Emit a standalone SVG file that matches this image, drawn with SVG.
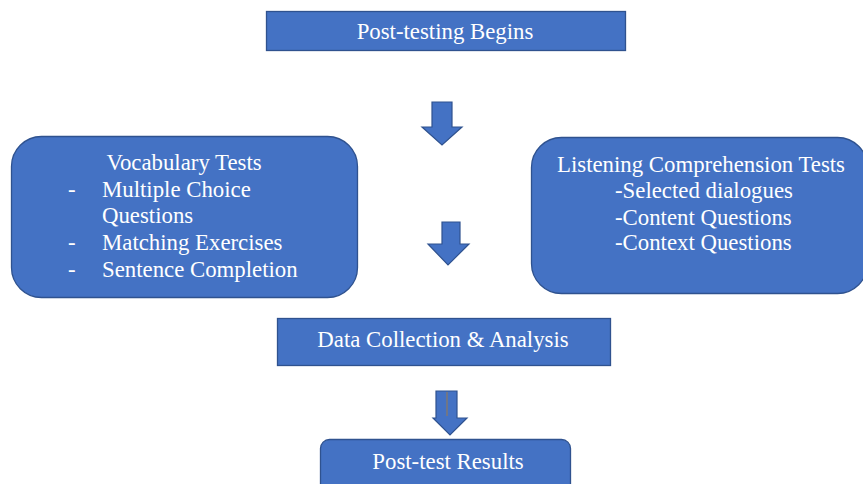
<svg xmlns="http://www.w3.org/2000/svg" width="863" height="484" viewBox="0 0 863 484">
  <defs>
    <style>
      .box { fill: #4472C4; stroke: #2F528F; stroke-width: 1.3; }
      .arrow { fill: #4472C4; stroke: #2F528F; stroke-width: 1.2; stroke-linejoin: miter; }
      text { font-family: "Liberation Serif", "Times New Roman", serif; font-size: 22.8px; fill: #ffffff; }
      .mid { text-anchor: middle; }
    </style>
  </defs>
  <rect width="863" height="484" fill="#ffffff"/>

  <!-- flow connectors: block arrows -->
  <g id="connectors">
    <path class="arrow" d="M432,102 H452 V127 H462 L442,145 L422,127 H432 Z"/>
    <path class="arrow" d="M442,222 H460 V244 H469 L448,265 L428,244 H442 Z"/>
    <path class="arrow" d="M436,391 H457 V418 H467 L450,435 L433,418 H436 Z"/>
    <line x1="447" y1="392" x2="447" y2="416" stroke="#9C7A4A" stroke-width="1"/>
  </g>

  <g id="post-testing-begins">
    <rect class="box" x="266.5" y="11.5" width="359" height="39"/>
    <text class="mid" x="445" y="38.5">Post-testing Begins</text>
  </g>

  <g id="vocabulary-tests">
    <rect class="box" x="11.5" y="136.5" width="346" height="161" rx="30" ry="30"/>
    <text class="mid" x="184" y="170">Vocabulary Tests</text>
    <text x="68" y="197">-</text>
    <text x="102" y="197">Multiple Choice</text>
    <text x="102" y="223">Questions</text>
    <text x="68" y="250">-</text>
    <text x="102" y="250">Matching Exercises</text>
    <text x="68" y="277">-</text>
    <text x="102" y="277">Sentence Completion</text>
  </g>

  <g id="listening-tests">
    <rect class="box" x="531.5" y="137.5" width="336" height="156" rx="30" ry="30"/>
    <text class="mid" x="701" y="172">Listening Comprehension Tests</text>
    <text x="615" y="198">-Selected dialogues</text>
    <text x="615" y="225">-Content Questions</text>
    <text x="615" y="250">-Context Questions</text>
  </g>

  <g id="data-collection">
    <rect class="box" x="277.5" y="318.5" width="333" height="47"/>
    <text class="mid" x="443" y="346.5">Data Collection &amp; Analysis</text>
  </g>

  <g id="post-test-results">
    <rect class="box" x="320.5" y="439.5" width="250" height="60" rx="9" ry="9"/>
    <text class="mid" x="448" y="468.5">Post-test Results</text>
  </g>
</svg>
